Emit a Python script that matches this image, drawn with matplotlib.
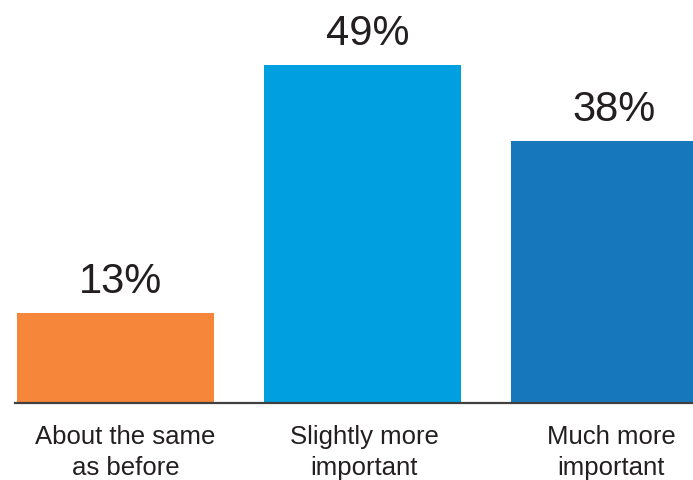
import matplotlib.pyplot as plt
import matplotlib.transforms as mtransforms

categories = ["About the same\nas before", "Slightly more\nimportant", "Much more\nimportant"]
values = [13, 49, 38]
colors = ["#F6863A", "#009FDF", "#1777BC"]

plt.rcParams['font.family'] = ['Liberation Sans', 'DejaVu Sans']

fig = plt.figure(figsize=(6.93, 4.8), dpi=100)
ax = fig.add_axes([15 / 693, 77 / 480, 1 - 15 / 693, 403 / 480])

x = list(range(len(values)))
bars = ax.bar(x, values, width=0.8, color=colors)
lbls = ax.bar_label(bars, labels=[f"{v}%" for v in values], padding=8,
                    fontsize=30, color="#231F20")
for t in lbls:
    t.xyann = (3.6, t.xyann[1])  # nudge a bit to the right

ax.set_xlim(-0.407, 2.338)
ax.set_ylim(0, 58.4)

for s in ["top", "right", "left"]:
    ax.spines[s].set_visible(False)
ax.spines["bottom"].set_color("#404040")
ax.spines["bottom"].set_linewidth(1.6)
ax.set_yticks([])
ax.set_xticks([])

# category labels under the baseline
trans = mtransforms.blended_transform_factory(ax.transData, ax.transAxes)
for i, name in enumerate(categories):
    dx = 0.04 if i == 0 else 0.006
    ax.text(i + dx, -0.055, name, transform=trans, ha="center", va="top",
            fontsize=18.5, color="#231F20", linespacing=1.35, clip_on=False)

fig.savefig("out.png", dpi=100)
